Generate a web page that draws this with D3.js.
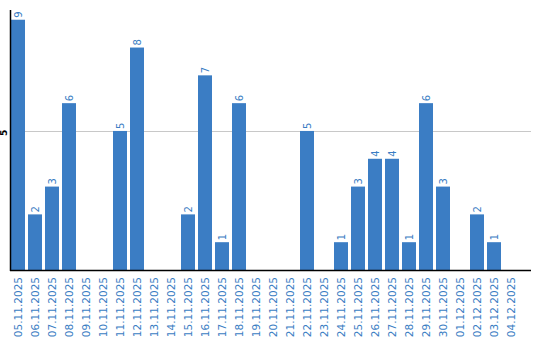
<!DOCTYPE html>
<html>
<head>
<meta charset="utf-8">
<style>
  body { margin: 0; background: #fff; }
  svg { display: block; }
  .tick-x { font-family: "DejaVu Sans", Verdana, sans-serif; font-size: 10.5px; fill: #3a7dc3; }
  .val { font-family: "DejaVu Sans", Verdana, sans-serif; font-size: 10px; fill: #3a7dc3; }
  .tick-y { font-family: "DejaVu Sans", Verdana, sans-serif; font-size: 9px; font-weight: bold; fill: #000; }
</style>
<script src="https://d3js.org/d3.v7.min.js"></script>
</head>
<body>
<svg id="chart" width="540" height="340"></svg>
<script>
const days = ["05.11.2025", "06.11.2025", "07.11.2025", "08.11.2025", "09.11.2025", "10.11.2025",
  "11.11.2025", "12.11.2025", "13.11.2025", "14.11.2025", "15.11.2025", "16.11.2025",
  "17.11.2025", "18.11.2025", "19.11.2025", "20.11.2025", "21.11.2025", "22.11.2025",
  "23.11.2025", "24.11.2025", "25.11.2025", "26.11.2025", "27.11.2025", "28.11.2025",
  "29.11.2025", "30.11.2025", "01.12.2025", "02.12.2025", "03.12.2025", "04.12.2025"];
const counts = [9, 2, 3, 6, 0, 0, 5, 8, 0, 0, 2, 7, 1, 6, 0, 0, 0, 5, 0, 1, 3, 4, 4, 1, 6, 3, 0, 2, 1, 0];
const yTicks = [5];

const mLeft = 10, mRight = 531, mTop = 10, mBottom = 270;
const svg = d3.select("#chart");

const x = d3.scaleBand()
  .domain(days)
  .range([11, 518])
  .paddingInner(3 / 17)
  .paddingOuter(0);

const y = d3.scaleLinear()
  .domain([0, 9.35])
  .range([mBottom, mTop]);

// grid
svg.selectAll(".grid")
  .data(yTicks)
  .join("line")
  .attr("x1", mLeft)
  .attr("x2", mRight)
  .attr("y1", d => Math.round(y(d)) + 0.5)
  .attr("y2", d => Math.round(y(d)) + 0.5)
  .attr("stroke", "#c8c8c8")
  .attr("stroke-width", 1);

svg.selectAll(".tick-y")
  .data(yTicks)
  .join("text")
  .attr("class", "tick-y")
  .attr("transform", d => `translate(7,${y(d) + 2}) rotate(-90)`)
  .attr("text-anchor", "middle")
  .text(d => d);

// bars
svg.selectAll(".bar")
  .data(counts)
  .join("rect")
  .attr("x", (d, i) => x(days[i]))
  .attr("y", d => y(d))
  .attr("width", x.bandwidth())
  .attr("height", d => mBottom - y(d))
  .attr("fill", "#3b7dc4");

svg.selectAll(".val")
  .data(counts.map((v, i) => ({ v, day: days[i] })).filter(d => d.v > 0))
  .join("text")
  .attr("class", "val")
  .attr("transform", d => `translate(${x(d.day) + x.bandwidth() / 2 + 3.5},${y(d.v) - 2}) rotate(-90)`)
  .text(d => d.v);

// x labels
svg.selectAll(".tick-x")
  .data(days)
  .join("text")
  .attr("class", "tick-x")
  .attr("transform", d => `translate(${x(d) + x.bandwidth() / 2 + 4},277) rotate(-90)`)
  .attr("text-anchor", "end")
  .text(d => d);

// axes
svg.append("line")
  .attr("x1", mLeft + 0.5).attr("x2", mLeft + 0.5)
  .attr("y1", mTop).attr("y2", mBottom + 1)
  .attr("stroke", "#000").attr("stroke-width", 1.5);
svg.append("line")
  .attr("x1", mLeft).attr("x2", mRight)
  .attr("y1", mBottom + 0.5).attr("y2", mBottom + 0.5)
  .attr("stroke", "#000").attr("stroke-width", 1.5);
</script>
</body>
</html>
